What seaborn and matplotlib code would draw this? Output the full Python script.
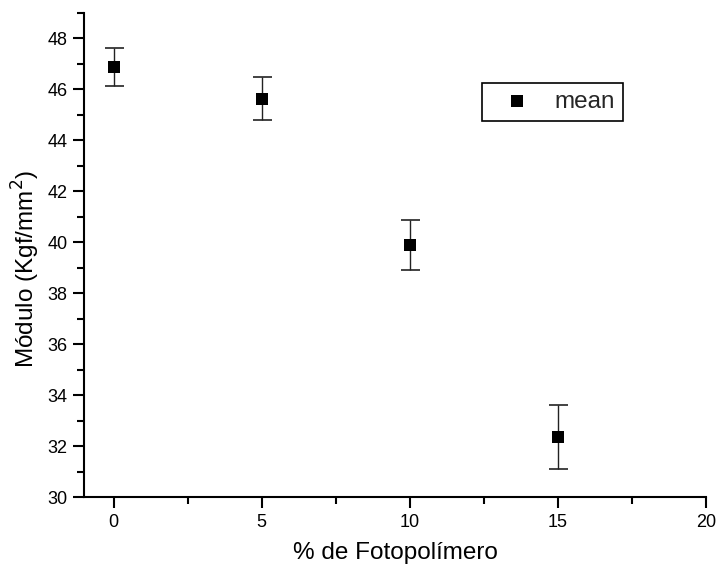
import matplotlib
matplotlib.use("Agg")
import matplotlib.pyplot as plt
import seaborn as sns
import pandas as pd
from matplotlib.ticker import MultipleLocator

# Data
fotopolimero = [0, 5, 10, 15]
modulo_mean = [46.88, 45.63, 39.89, 32.34]
modulo_err = [0.74, 0.85, 0.97, 1.26]

sns.set_theme(style="white")
plt.rcParams['font.family'] = ['Liberation Sans', 'DejaVu Sans']

df = pd.DataFrame({"x": fotopolimero, "y": modulo_mean, "err": modulo_err})

fig = plt.figure(figsize=(7.16, 5.70), dpi=100)
ax = fig.add_axes([84/716, 73/570, (706-84)/716, (497-13)/570])

ax.errorbar(df["x"], df["y"], yerr=df["err"], fmt="none", ecolor="#222222",
            elinewidth=1.0, capsize=9.5*0.72, capthick=1.2, zorder=2)
sns.scatterplot(data=df, x="x", y="y", marker="s", s=70, color="black",
                edgecolor="black", linewidth=0, ax=ax, zorder=3, label="mean")

ax.set_xlim(-1, 20)
ax.set_ylim(30, 49)
ax.xaxis.set_major_locator(MultipleLocator(5))
ax.xaxis.set_minor_locator(MultipleLocator(2.5))
ax.yaxis.set_major_locator(MultipleLocator(2))
ax.yaxis.set_minor_locator(MultipleLocator(1))

for s in ["top", "right"]:
    ax.spines[s].set_visible(False)
for s in ["left", "bottom"]:
    ax.spines[s].set_color("black")
    ax.spines[s].set_linewidth(1.5)

ax.tick_params(axis="both", which="major", direction="out", length=8, width=1.5,
               color="black", labelsize=13, labelcolor="black", pad=4,
               bottom=True, left=True)
ax.tick_params(axis="both", which="minor", direction="out", length=5, width=1.5,
               color="black", bottom=True, left=True)

ax.set_xlabel("% de Fotopolímero", fontsize=17.5, color="black", labelpad=8)
ax.set_ylabel("Módulo (Kgf/mm$^2$)", fontsize=17.5, color="black", labelpad=4)
ax.yaxis.label.set_y(0.471)

leg = ax.legend(loc="upper left", bbox_to_anchor=(0.64, 0.856), borderaxespad=0,
                fancybox=False, edgecolor="black", framealpha=1, fontsize=17.5,
                handletextpad=0.45, borderpad=0.33, handlelength=2.2,
                markerscale=1.0)
leg.get_frame().set_linewidth(1.2)

fig.savefig("out.png", dpi=100)
